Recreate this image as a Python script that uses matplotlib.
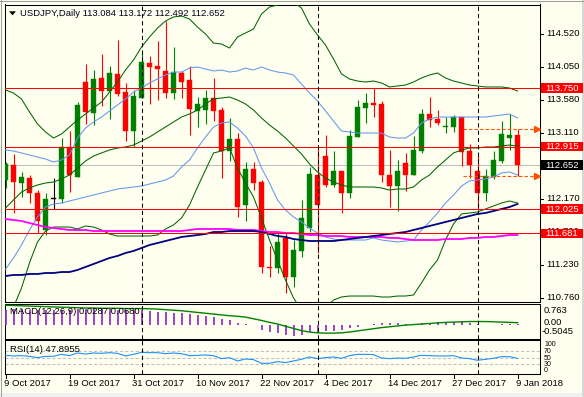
import matplotlib
matplotlib.use('Agg')
import matplotlib.pyplot as plt
from matplotlib.patches import Rectangle, Polygon
import matplotlib.transforms as mtransforms
import numpy as np

# ---------------- data ----------------
symbol = "USDJPY"
timeframe = "Daily"

opens = [112.440, 112.654, 112.397, 112.468, 112.255, 111.728, 112.169, 112.169, 112.910, 112.483,
         113.836, 113.395, 113.893, 113.708, 113.950, 113.693, 113.138, 113.608, 114.107, 114.064,
         113.993, 113.679, 113.964, 113.865, 113.423, 113.437, 113.608, 113.437, 112.853, 113.024,
         112.084, 112.597, 112.411, 111.201, 111.186, 111.614, 111.058, 111.429, 111.756, 112.511,
         112.782, 112.369, 112.568, 112.255, 113.052, 113.466, 113.537, 113.523, 112.511, 112.354,
         112.682, 112.511, 112.853, 113.380, 113.309, 113.195, 113.195, 113.337, 112.853, 112.568,
         112.255, 112.483, 112.710, 113.038, 113.084]
highs = [112.696, 112.810, 112.554, 112.511, 112.297, 112.255, 112.468, 113.038, 113.138, 113.551,
         114.092, 114.007, 114.235, 114.064, 114.434, 113.822, 113.722, 114.263, 114.206, 114.420,
         114.705, 114.334, 113.993, 114.064, 113.622, 113.722, 113.893, 113.480, 113.323, 113.109,
         112.696, 112.696, 112.440, 111.500, 111.699, 111.685, 111.585, 112.155, 112.625, 112.896,
         113.081, 112.853, 112.568, 113.152, 113.579, 113.679, 113.750, 113.565, 112.867, 112.725,
         112.825, 113.067, 113.451, 113.622, 113.437, 113.337, 113.366, 113.337, 112.953, 112.825,
         112.597, 112.853, 113.280, 113.380, 113.172]
lows = [112.326, 111.970, 112.198, 112.112, 111.685, 111.656, 112.027, 112.112, 112.269, 112.483,
        113.238, 113.223, 113.494, 113.309, 113.636, 112.995, 112.910, 113.608, 113.523, 113.579,
        113.608, 113.594, 113.608, 113.081, 113.195, 113.238, 113.280, 112.468, 112.710, 111.913,
        111.856, 112.297, 111.115, 111.058, 111.115, 110.830, 110.916, 111.343, 111.699, 111.400,
        112.340, 112.340, 111.970, 112.183, 113.052, 113.252, 113.337, 112.411, 112.055, 111.998,
        112.283, 112.511, 112.825, 113.195, 113.223, 113.109, 113.124, 112.639, 112.468, 112.013,
        112.141, 112.454, 112.682, 112.867, 112.492]
closes = [112.668, 112.411, 112.483, 112.255, 111.856, 112.169, 112.169, 112.910, 112.511, 113.508,
          113.409, 113.879, 113.708, 113.964, 113.665, 113.138, 113.636, 114.121, 114.050, 114.021,
          113.679, 113.978, 113.836, 113.451, 113.523, 113.608, 113.423, 112.853, 113.024, 112.055,
          112.597, 112.397, 111.201, 111.186, 111.557, 111.058, 111.443, 111.899, 112.526, 112.084,
          112.369, 112.568, 112.255, 113.067, 113.480, 113.537, 113.508, 112.511, 112.354, 112.568,
          112.511, 112.867, 113.380, 113.295, 113.252, 113.209, 113.337, 112.839, 112.654, 112.255,
          112.497, 112.725, 113.095, 113.081, 112.652]

# Bollinger bands (outer = green, inner = blue)
bb_upper_outer = [113.722, 113.679, 113.594, 113.409, 113.238, 113.124, 113.038, 113.095, 113.195, 113.295,
                  113.380, 113.466, 113.551, 113.693, 113.836, 114.007, 114.149, 114.334, 114.477, 114.605,
                  114.705, 114.762, 114.776, 114.733, 114.619, 114.520, 114.391, 114.377, 114.320, 114.477,
                  114.534, 114.591, 114.805, 114.904, 114.933, 114.976, 114.976, 114.890, 114.662, 114.505,
                  114.363, 114.164, 113.950, 113.879, 113.850, 113.836, 113.850, 113.822, 113.765, 113.779,
                  113.793, 113.836, 113.893, 113.936, 113.964, 113.893, 113.850, 113.822, 113.793, 113.779,
                  113.765, 113.765, 113.765, 113.750, 113.708]
bb_upper_inner = [112.867, 112.853, 112.825, 112.796, 112.767, 112.739, 112.696, 112.725, 112.796, 113.038,
                  113.181, 113.266, 113.337, 113.423, 113.508, 113.594, 113.693, 113.750, 113.822, 113.879,
                  113.936, 113.978, 113.978, 114.035, 114.050, 114.021, 113.993, 114.007, 113.978, 113.993,
                  114.035, 114.007, 114.050, 114.007, 113.978, 113.964, 113.936, 113.807, 113.679, 113.565,
                  113.423, 113.280, 113.138, 113.124, 113.109, 113.109, 113.109, 113.109, 113.052, 113.038,
                  113.038, 113.109, 113.252, 113.309, 113.337, 113.337, 113.337, 113.337, 113.337, 113.337,
                  113.337, 113.352, 113.366, 113.380, 113.323]
bb_middle = [112.041, 112.155, 112.269, 112.326, 112.369, 112.397, 112.411, 112.454, 112.511, 112.611,
             112.710, 112.782, 112.825, 112.867, 112.896, 112.910, 112.938, 112.995, 113.052, 113.124,
             113.195, 113.266, 113.337, 113.380, 113.437, 113.523, 113.594, 113.608, 113.622, 113.579,
             113.523, 113.437, 113.323, 113.223, 113.138, 113.038, 112.924, 112.810, 112.668, 112.554,
             112.468, 112.411, 112.369, 112.340, 112.340, 112.340, 112.340, 112.326, 112.297, 112.312,
             112.312, 112.340, 112.440, 112.511, 112.625, 112.725, 112.825, 112.867, 112.896, 112.896,
             112.910, 112.910, 112.924, 112.938, 112.924]
bb_lower_inner = [111.170, 111.329, 111.514, 111.728, 111.913, 112.055, 112.098, 112.112, 112.141, 112.169,
                  112.198, 112.226, 112.255, 112.283, 112.312, 112.326, 112.340, 112.354, 112.383, 112.411,
                  112.440, 112.497, 112.625, 112.725, 112.896, 113.052, 113.195, 113.252, 113.266, 113.181,
                  113.067, 112.896, 112.611, 112.397, 112.155, 112.013, 111.913, 111.842, 111.756, 111.685,
                  111.628, 111.599, 111.585, 111.585, 111.585, 111.585, 111.614, 111.585, 111.571, 111.557,
                  111.571, 111.585, 111.728, 111.842, 111.970, 112.112, 112.226, 112.354, 112.426, 112.440,
                  112.454, 112.483, 112.540, 112.554, 112.511]
bb_lower_outer = [110.360, 110.630, 110.900, 111.260, 111.557, 111.713, 111.770, 111.770, 111.770, 111.742,
                  111.785, 111.770, 111.728, 111.671, 111.642, 111.642, 111.642, 111.642, 111.642, 111.656,
                  111.742, 111.799, 111.899, 112.084, 112.340, 112.582, 112.825, 112.853, 112.896, 112.611,
                  112.397, 112.198, 111.899, 111.585, 111.300, 111.015, 110.759, 110.588, 110.517, 110.517,
                  110.617, 110.730, 110.773, 110.787, 110.787, 110.787, 110.787, 110.773, 110.773, 110.787,
                  110.787, 110.802, 110.973, 111.158, 111.300, 111.585, 111.813, 111.956, 111.970, 111.984,
                  112.027, 112.070, 112.112, 112.141, 112.112]
ma_navy = [111.072, 111.087, 111.087, 111.101, 111.101, 111.115, 111.115, 111.129, 111.129, 111.158,
           111.201, 111.243, 111.286, 111.329, 111.358, 111.400, 111.429, 111.471, 111.514, 111.542,
           111.571, 111.599, 111.628, 111.642, 111.656, 111.671, 111.699, 111.699, 111.713, 111.713,
           111.713, 111.713, 111.699, 111.671, 111.642, 111.628, 111.599, 111.585, 111.571, 111.571,
           111.571, 111.571, 111.585, 111.599, 111.614, 111.628, 111.642, 111.656, 111.671, 111.685,
           111.699, 111.728, 111.756, 111.785, 111.813, 111.842, 111.870, 111.899, 111.927, 111.956,
           111.970, 111.998, 112.027, 112.055, 112.098]
ma_magenta = [111.884, 111.870, 111.856, 111.827, 111.799, 111.770, 111.756, 111.742, 111.728, 111.728,
              111.728, 111.713, 111.713, 111.713, 111.713, 111.713, 111.713, 111.713, 111.713, 111.713,
              111.713, 111.713, 111.713, 111.728, 111.742, 111.742, 111.742, 111.742, 111.742, 111.728,
              111.728, 111.728, 111.713, 111.699, 111.699, 111.685, 111.685, 111.671, 111.656, 111.656,
              111.642, 111.642, 111.642, 111.628, 111.628, 111.628, 111.628, 111.628, 111.614, 111.614,
              111.599, 111.585, 111.585, 111.585, 111.585, 111.599, 111.599, 111.599, 111.614, 111.614,
              111.628, 111.628, 111.642, 111.656, 111.656]

macd_main = [0.54, 0.55, 0.55, 0.54, 0.53, 0.52, 0.52, 0.53, 0.54, 0.56,
             0.57, 0.56, 0.55, 0.55, 0.54, 0.53, 0.52, 0.52, 0.50, 0.47,
             0.45, 0.43, 0.41, 0.38, 0.35, 0.32, 0.27, 0.21, 0.15, 0.06,
             0.01, -0.01, -0.18, -0.28, -0.31, -0.36, -0.42, -0.36, -0.28, -0.30,
             -0.22, -0.22, -0.18, -0.12, -0.10, -0.03, 0.01, 0.05, 0.07, 0.05,
             0.03, 0.01, 0.05, 0.07, 0.09, 0.10, 0.11, 0.10, 0.07, 0.03,
             0.00, 0.00, 0.02, 0.03, 0.0287]
macd_signal = [0.70, 0.69, 0.68, 0.67, 0.66, 0.65, 0.64, 0.63, 0.62, 0.61,
               0.60, 0.60, 0.59, 0.59, 0.59, 0.58, 0.58, 0.58, 0.57, 0.56,
               0.54, 0.52, 0.50, 0.47, 0.44, 0.41, 0.38, 0.35, 0.32, 0.30,
               0.27, 0.21, 0.15, 0.08, 0.02, -0.06, -0.14, -0.22, -0.27, -0.30,
               -0.31, -0.31, -0.30, -0.27, -0.23, -0.19, -0.15, -0.11, -0.08, -0.05,
               -0.02, 0.00, 0.02, 0.04, 0.06, 0.08, 0.09, 0.10, 0.11, 0.11,
               0.11, 0.10, 0.09, 0.08, 0.0680]
macd_max, macd_min = 0.763, -0.5045

rsi = [57, 55, 56, 54, 50, 54, 54, 60, 56, 64,
       61, 64, 63, 65, 63, 55, 60, 66, 65, 65,
       62, 64, 62, 56, 57, 58, 56, 47, 50, 40,
       46, 44, 33, 33, 38, 35, 40, 45, 52, 47,
       50, 52, 48, 56, 60, 60, 59, 49, 47, 49,
       48, 52, 57, 56, 55, 55, 56, 49, 47, 42,
       45, 48, 53, 53, 47.8955]
rsi_levels = [30, 50, 70]
rsi_scale_labels = ["100", "70", "50", "30", "0"]

date_labels = ["9 Oct 2017", "19 Oct 2017", "31 Oct 2017", "10 Nov 2017", "22 Nov 2017",
               "4 Dec 2017", "14 Dec 2017", "27 Dec 2017", "9 Jan 2018"]
date_label_bars = [0, 8, 16, 24, 32, 40, 48, 56, 64]
month_start_bars = [17, 39, 59]

price_ticks = [114.520, 114.050, 113.580, 113.110, 112.640, 112.170, 111.700, 111.230, 110.760]
level_lines = [113.750, 112.915, 112.025, 111.681]
bid_price = closes[-1]

# ---------------- layout helpers ----------------
W, H = 584, 397
fig = plt.figure(figsize=(W / 100, H / 100), dpi=100)
BG = '#FFFFF0'
fig.patch.set_facecolor(BG)
FONT = 'Liberation Sans'
FS = 6.8
plt.rcParams['font.family'] = [FONT, 'DejaVu Sans']

def rect(x0, y0, x1, y1):
    return [x0 / W, 1 - y1 / H, (x1 - x0) / W, (y1 - y0) / H]

def fy(y):
    return 1 - y / H

def fx(x):
    return x / W

XL = (-0.125, 66.75)
ax = fig.add_axes(rect(4.5, 4.5, 539.5, 301.5))
axm = fig.add_axes(rect(4.5, 303.5, 539.5, 338.5))
axr = fig.add_axes(rect(4.5, 339.5, 539.5, 373.5))
for a in (ax, axm, axr):
    a.set_facecolor(BG)
    a.set_xlim(*XL)
    a.set_xticks([])
    a.set_yticks([])
    for s in a.spines.values():
        s.set_color('black')
        s.set_linewidth(0.75)

ax.set_ylim(110.709, 114.940)
axm.set_ylim(macd_min, macd_max)
axr.set_ylim(2.3, 104.6)

n = len(closes)
xs = np.arange(n)

# ---------------- main chart ----------------
for i in range(n):
    o, h, l, c = opens[i], highs[i], lows[i], closes[i]
    if c > o:
        col = '#008000'
    elif c < o:
        col = '#FF0000'
    else:
        col = 'black'
    ax.vlines(i, l, h, color=col, lw=0.8, zorder=3)
    bot = min(o, c)
    hgt = max(abs(c - o), 0.012)
    ax.add_patch(Rectangle((i - 0.3, bot), 0.6, hgt, facecolor=col, edgecolor=col,
                           lw=0.3, zorder=3))

lw1 = 0.75
ax.plot(xs, bb_upper_outer, color='#006400', lw=lw1, zorder=4)
ax.plot(xs, bb_lower_outer, color='#006400', lw=lw1, zorder=4)
ax.plot(xs, bb_middle, color='#006400', lw=lw1, zorder=4)
ax.plot(xs, bb_upper_inner, color='#6495ED', lw=lw1, zorder=4)
ax.plot(xs, bb_lower_inner, color='#6495ED', lw=lw1, zorder=4)
ax.plot(xs, ma_magenta, color='#FF00FF', lw=1.3, zorder=4)
ax.plot(xs, ma_navy, color='#000080', lw=1.3, zorder=4)

ax.axhline(bid_price, color='#C0C0C0', lw=0.75, zorder=2)
for lv in level_lines:
    ax.axhline(lv, color='#FF0000', lw=0.75, zorder=5)

# high / low dashed markers of current bar
hl_start = 57.2
for lv in (highs[-1], lows[-1]):
    ax.plot([hl_start, 66.35], [lv, lv], color='#FF5000', lw=0.8, ls=(0, (3, 2)), zorder=5)
    ax.plot([66.45], [lv], marker='>', color='#FF5000', markersize=4, zorder=5, clip_on=False)

for a in (ax, axm, axr):
    for b in month_start_bars:
        a.axvline(b, color='black', lw=0.75, ls=(0, (4, 3)), zorder=6)

# right axis of main chart
trans = mtransforms.blended_transform_factory(fig.transFigure, ax.transData)
for t in price_ticks:
    ax.plot([fx(539.5), fx(543)], [t, t], transform=trans, color='black', lw=0.75, clip_on=False)
    ax.text(fx(546), t, f"{t:.3f}", transform=trans, fontsize=FS, va='center', ha='left',
            color='black', clip_on=False)

box_h = 9.5 / 70.2
for lv, bg in [(level_lines[0], '#FF0000'), (level_lines[1], '#FF0000'), (bid_price, '#000000'),
               (level_lines[2], '#FF0000'), (level_lines[3], '#FF0000')]:
    ax.add_patch(Rectangle((fx(541), lv - box_h / 2), fx(41.5), box_h, transform=trans,
                           facecolor=bg, edgecolor='none', clip_on=False, zorder=10))
    ax.text(fx(545), lv, f"{lv:.3f}", transform=trans, fontsize=FS, va='center', ha='left',
            color='white', clip_on=False, zorder=11)

# ---------------- MACD ----------------
axm.vlines(xs, 0, macd_main, color='#9932CC', lw=1.3, zorder=3)
axm.plot(xs, macd_signal, color='#008000', lw=1.0, zorder=4)
fig.text(fx(544), fy(310.5), f"{macd_max:.3f}", fontsize=FS, va='center', ha='left')
fig.text(fx(544), fy(322.5), "0.00", fontsize=FS, va='center', ha='left')
fig.text(fx(542), fy(331.5), f"{macd_min:.4f}", fontsize=FS, va='center', ha='left')
fig.text(fx(9.5), fy(312), f"MACD(12,26,9) {macd_main[-1]:.4f} {macd_signal[-1]:.4f}",
         fontsize=FS, va='center', ha='left', zorder=10)

# ---------------- RSI ----------------
for lv in rsi_levels:
    axr.axhline(lv, color='#C0C0C0', lw=0.75, ls=(0, (3, 2)), zorder=2)
axr.plot(xs, rsi, color='#1E90FF', lw=0.8, zorder=4)
fig.text(fx(9.5), fy(350), f"RSI(14) {rsi[-1]:.4f}", fontsize=FS, va='center', ha='left', zorder=10)
for lab, yy in zip(rsi_scale_labels, [345.0, 351.5, 358.0, 364.5, 370.5]):
    fig.text(fx(544), fy(yy), lab, fontsize=5.0, va='center', ha='left')

# ---------------- x axis labels ----------------
for b, lab in zip(date_label_bars, date_labels):
    xp = 5.5 + 8 * b
    fig.add_artist(plt.Line2D([fx(xp), fx(xp)], [fy(373.5), fy(377.5)], color='black', lw=0.75))
    fig.text(fx(xp - 1), fy(383.5), lab, fontsize=FS, va='center', ha='left')

# ---------------- title ----------------
fig.add_artist(Polygon([[fx(9.5), fy(11.5)], [fx(15.5), fy(11.5)], [fx(12.5), fy(15)]],
                       closed=True, facecolor='black', edgecolor='black', lw=0.3,
                       transform=fig.transFigure))
fig.text(fx(20), fy(13.5),
         f"{symbol},{timeframe} {opens[-1]:.3f} {highs[-1]:.3f} {lows[-1]:.3f} {closes[-1]:.3f}",
         fontsize=FS, va='center', ha='left', color='#000020')

# window frame
fig.add_artist(Rectangle((0, 0), 1, fy(393), transform=fig.transFigure, facecolor='#F0F0F0',
                         edgecolor='none', zorder=-5))
fig.add_artist(Rectangle((fx(582), 0), fx(2), 1, transform=fig.transFigure, facecolor='#D8D8D8',
                         edgecolor='none', zorder=-5))
fig.add_artist(plt.Line2D([fx(0.5), fx(0.5)], [0, 1], color='#A0A0A0', lw=0.75))
fig.add_artist(plt.Line2D([0, 1], [fy(0.5), fy(0.5)], color='#A0A0A0', lw=0.75))

fig.savefig('out.png', dpi=100, facecolor=fig.get_facecolor())
